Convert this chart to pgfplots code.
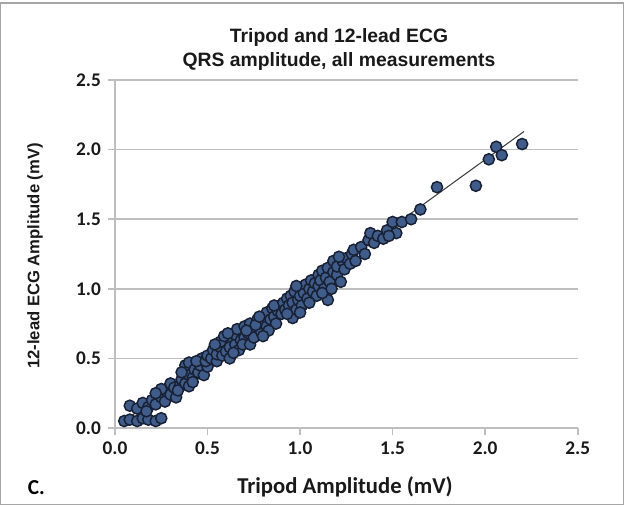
\documentclass[border=0pt]{standalone}
\usepackage{pgfplots}
\pgfplotsset{compat=1.18}
\usepackage{fontspec}
\setmainfont{Liberation Sans}
\newfontfamily\calfont{Carlito}
\definecolor{mfill}{RGB}{64,92,138}
\definecolor{medge}{RGB}{24,32,52}
\definecolor{gridc}{RGB}{190,190,190}
\begin{document}
\begin{tikzpicture}
\begin{axis}[
  at={(0,0)}, anchor=south west,
  scale only axis, width=347pt, height=261pt,
  xmin=0, xmax=2.5, ymin=0, ymax=2.5,
  xtick={0,0.5,...,2.5}, ytick={0,0.5,...,2.5},
  xticklabels={0.0,0.5,1.0,1.5,2.0,2.5},
  yticklabels={0.0,0.5,1.0,1.5,2.0,2.5},
  ymajorgrids, grid style={gridc, line width=1.3pt},
  axis x line=bottom, axis y line=left,
  axis line style={gridc, line width=1.3pt, -},
  x axis line style={-}, y axis line style={-},
  tick style={gridc, line width=1.3pt},
  major tick length=5pt,
  xtick pos=bottom, ytick pos=left,
  tick align=outside,
  ticklabel style={font=\calfont\bfseries\fontsize{14.5}{16}\selectfont, text=black!90},
  xticklabel style={yshift=-2pt},
  yticklabel style={xshift=-2pt},
  /pgf/number format/assume math mode=true,
  clip=false,
]
\addplot[only marks, mark=*, mark size=4.2pt, mark options={fill=mfill, draw=medge, line width=1.1pt}] coordinates {
(0.05,0.05) (0.08,0.06) (0.12,0.05) (0.15,0.07) (0.18,0.06) (0.22,0.05) (0.25,0.07)
(0.08,0.16) (0.12,0.14) (0.15,0.18) (0.18,0.15) (0.20,0.20) (0.22,0.17) (0.17,0.12)
(0.25,0.22) (0.27,0.19) (0.28,0.26) (0.25,0.28) (0.30,0.24) (0.30,0.32) (0.22,0.25) (0.32,0.29)
(0.33,0.22) (0.35,0.30) (0.36,0.35) (0.34,0.27) (0.38,0.32) (0.40,0.30) (0.40,0.38) (0.42,0.36)
(0.38,0.45) (0.40,0.47) (0.43,0.42) (0.45,0.40) (0.46,0.45) (0.48,0.38) (0.47,0.50) (0.50,0.44)
(0.44,0.48) (0.36,0.40) (0.49,0.48) (0.42,0.33)
(0.50,0.52) (0.52,0.50) (0.53,0.56) (0.55,0.48) (0.55,0.53) (0.57,0.58) (0.58,0.52) (0.60,0.60)
(0.60,0.55) (0.62,0.50) (0.63,0.63) (0.62,0.58) (0.65,0.60) (0.65,0.67) (0.67,0.56) (0.68,0.63)
(0.66,0.71) (0.70,0.65) (0.70,0.73) (0.69,0.60) (0.57,0.62) (0.54,0.60) (0.59,0.66) (0.64,0.54) (0.61,0.68)
(0.72,0.68) (0.73,0.75) (0.73,0.60) (0.75,0.70) (0.75,0.65) (0.77,0.78) (0.78,0.72) (0.79,0.69)
(0.80,0.80) (0.80,0.75) (0.82,0.73) (0.82,0.83) (0.84,0.78) (0.85,0.86) (0.86,0.80) (0.87,0.75)
(0.88,0.84) (0.89,0.88) (0.90,0.82) (0.76,0.74) (0.71,0.70) (0.83,0.70) (0.78,0.80) (0.86,0.88) (0.80,0.66)
(0.91,0.90) (0.92,0.85) (0.93,0.93) (0.94,0.88) (0.95,0.95) (0.96,0.79) (0.96,0.90) (0.97,0.98)
(0.98,0.85) (0.99,0.92) (1.00,1.00) (1.00,0.95) (1.01,0.88) (1.02,0.97) (1.03,1.03) (1.04,0.93)
(1.05,1.00) (1.06,1.06) (1.07,0.98) (1.08,1.04) (1.09,0.95) (1.10,1.10) (1.10,1.02) (0.93,0.82)
(1.05,0.90) (0.98,1.02) (1.00,0.83)
(1.11,1.06) (1.12,1.13) (1.13,1.00) (1.14,1.08) (1.15,0.92) (1.15,1.15) (1.16,1.05) (1.18,1.12)
(1.18,1.20) (1.20,1.10) (1.20,1.16) (1.22,1.05) (1.23,1.20) (1.24,1.14) (1.25,1.22) (1.27,1.18)
(1.28,1.25) (1.30,1.20) (1.29,1.28) (1.12,0.97) (1.17,1.00) (1.21,1.23)
(1.33,1.30) (1.35,1.25) (1.37,1.35) (1.38,1.40) (1.40,1.33) (1.42,1.38) (1.45,1.36) (1.47,1.42)
(1.50,1.48) (1.52,1.40) (1.48,1.38) (1.55,1.48) (1.60,1.50) (1.65,1.57)
(1.74,1.73) (1.95,1.74) (2.02,1.93) (2.06,2.02) (2.09,1.96) (2.20,2.04)
};
\addplot[black!75, line width=0.8pt] coordinates {(0.05,0.05) (2.21,2.13)};
\end{axis}
\node[font=\bfseries\fontsize{14.5}{18}\selectfont, align=center, text=black!90] at (168pt,284pt) {Tripod and 12-lead ECG\\QRS amplitude, all measurements};
\node[font=\calfont\bfseries\fontsize{17}{19}\selectfont, text=black!90] at (172.5pt,-44.5pt) {Tripod Amplitude (mV)};
\node[font=\bfseries\fontsize{12.5}{14}\selectfont, text=black!90, rotate=90] at (-60pt,129pt) {12-lead ECG Amplitude (mV)};
\node[font=\calfont\bfseries\fontsize{16}{18}\selectfont, text=black] at (-59pt,-44.5pt) {C.};
\pgfresetboundingbox
\path[use as bounding box] (-86.25pt,-57.75pt) rectangle (381.75pt,321pt);
\draw[black!35, line width=1.5pt] (-86.25pt,-57.75pt) rectangle (381.75pt,319pt);
\end{tikzpicture}
\end{document}
